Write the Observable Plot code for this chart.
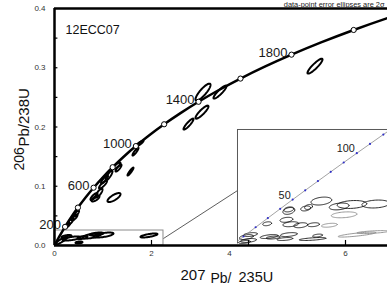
<!DOCTYPE html>
<html><head><meta charset="utf-8">
<script src="https://cdn.jsdelivr.net/npm/d3@7"></script>
<script src="https://cdn.jsdelivr.net/npm/@observablehq/plot@0.6"></script>
<style>
html,body{margin:0;padding:0;background:#fff;overflow:hidden;}
#wrap{position:relative;width:387px;height:294px;overflow:hidden;background:#fff;}
#main{position:absolute;left:0;top:0;}
#inset{position:absolute;left:237px;top:129px;}
</style></head>
<body><div id="wrap"><div id="main"></div><div id="inset"></div></div>
<script>
// ---------------- data ----------------
const sampleName = "12ECC07";
const noteText = "data-point error ellipses are 2σ";

// concordia (age in Ma, 207Pb/235U, 206Pb/238U)
const concordiaAge = [0,100,200,300,400,500,600,700,800,900,1000,1100,1200,1300,1400,1500,1600,1700,1800,1900,2000,2100,2200];
const concordia207 = [0,0.10350,0.21771,0.34374,0.48281,0.63628,0.80563,0.99251,1.19873,1.42630,1.67741,1.95452,2.26030,2.59774,2.97009,3.38099,3.83441,4.33477,4.88690,5.49618,6.16853,6.91045,7.72917];
const concordia206 = [0,0.015633,0.031511,0.047638,0.064016,0.080650,0.097544,0.114702,0.132128,0.149828,0.167804,0.186061,0.204603,0.223435,0.242562,0.261987,0.281716,0.301754,0.322105,0.342774,0.363766,0.385087,0.406741];
const markerAges = [200,400,600,800,1000,1200,1400,1600,1800,2000];
const labelAges = [200,600,1000,1400,1800];

// main-plot error ellipses: [207/235, 206/238, 2s x, 2s y, rho]
const mainEllipses = [
  [3.062,0.2589,0.155,0.0143,0.85],
  [3.412,0.2589,0.134,0.0110,0.90],
  [3.041,0.2251,0.134,0.0110,0.88],
  [2.763,0.2049,0.103,0.0093,0.90],
  [5.371,0.3027,0.155,0.0126,0.90],
  [1.753,0.1720,0.082,0.0050,0.90],
  [1.670,0.1585,0.062,0.0067,0.90],
  [1.320,0.1307,0.062,0.0059,0.85],
  [1.567,0.1248,0.062,0.0067,0.93],
  [1.227,0.0809,0.134,0.0076,0.75],
  [0.814,0.0826,0.072,0.0059,0.80],
  [0.918,0.0885,0.072,0.0076,0.80],
  [1.000,0.1029,0.082,0.0067,0.85],
  [1.031,0.1113,0.072,0.0067,0.85],
  [1.124,0.1180,0.072,0.0084,0.85],
  [1.289,0.1349,0.072,0.0051,0.80],
  [0.845,0.0793,0.082,0.0050,0.70],
  [0.330,0.0405,0.062,0.0059,0.80],
  [0.412,0.0472,0.062,0.0051,0.80],
  [0.268,0.0337,0.052,0.0042,0.80],
  [0.454,0.0540,0.052,0.0051,0.80],
  [0.144,0.0084,0.124,0.0067,0.90],
  [0.350,0.0118,0.186,0.0034,0.60],
  [0.577,0.0135,0.103,0.0025,0.50],
  [0.763,0.0160,0.186,0.0042,0.60],
  [1.010,0.0177,0.206,0.0042,0.60],
  [0.505,0.0051,0.072,0.0017,0.30],
  [1.948,0.0169,0.175,0.0034,0.70],
  [0.247,0.0152,0.103,0.0025,0.50],
  [0.866,0.0194,0.144,0.0025,0.50]
];

// zoom box and connector (main plot data units)
const zoomBox = [0, 2.247, 0, 0.0253];
const connectorFrom = [2.247, 0.0118];
const connectorTo = [3.773, 0.0927];

// inset concordia
const insetAge = [0,10,20,30,40,50,60,70,80,90,100,110,120,130,140];
const inset207 = [0,0.0098972,0.019892,0.029986,0.040180,0.050475,0.060872,0.071371,0.081975,0.092683,0.103505,0.114420,0.125449,0.136588,0.147837];
const inset206 = [0,0.0015525,0.0031073,0.0046646,0.0062243,0.0077864,0.0093509,0.0109179,0.0124873,0.0140592,0.0156334,0.0172102,0.0187893,0.0203710,0.0219550];
const insetLabelAges = [50,100];
const insetXDomain = [0.00489, 0.12887];
const insetYDomain = [0.000284, 0.019643];

// inset ellipses: [207/235, 206/238, 2s x, 2s y, rho, group]
const insetEllipses = [
  [0.0742,0.00754,0.00856,0.00067,0.3,"a"],
  [0.0636,0.00654,0.00326,0.00042,0.3,"a"],
  [0.0473,0.00587,0.00489,0.00058,0.3,"a"],
  [0.0473,0.00613,0.00408,0.00042,0.3,"a"],
  [0.0889,0.00663,0.00816,0.00058,0.3,"a"],
  [0.0995,0.00696,0.01223,0.00067,0.2,"a"],
  [0.0930,0.00521,0.01060,0.00050,0.3,"b"],
  [0.1191,0.00704,0.01140,0.00067,0.2,"a"],
  [0.0294,0.00370,0.00367,0.00033,0.3,"a"],
  [0.0453,0.00437,0.00530,0.00042,0.3,"a"],
  [0.0489,0.00362,0.00653,0.00042,0.3,"a"],
  [0.0571,0.00345,0.00571,0.00042,0.3,"a"],
  [0.0677,0.00354,0.00490,0.00033,0.3,"a"],
  [0.0808,0.00345,0.00653,0.00033,0.4,"b"],
  [0.0612,0.00629,0.00408,0.00042,0.3,"a"],
  [0.0122,0.00145,0.00571,0.00042,0.4,"a"],
  [0.0139,0.00087,0.00653,0.00033,0.4,"a"],
  [0.0155,0.00187,0.00571,0.00033,0.4,"a"],
  [0.0106,0.00062,0.00490,0.00025,0.4,"a"],
  [0.0310,0.00154,0.00734,0.00033,0.5,"a"],
  [0.0473,0.00187,0.00693,0.00033,0.4,"a"],
  [0.0440,0.00112,0.00653,0.00025,0.4,"a"],
  [0.0669,0.00112,0.01100,0.00025,0.6,"a"],
  [0.0710,0.00170,0.00408,0.00025,0.4,"a"],
  [0.1036,0.00187,0.01550,0.00042,0.8,"b"],
  [0.1166,0.00229,0.01310,0.00025,0.6,"b"],
  [0.0343,0.00137,0.00571,0.00025,0.4,"a"]
];

// axes
const xTickValues = [2,4,6];
const xLabelValues = [0,2,4,6];
const yTickValues = [0.05,0.1,0.15,0.2,0.25,0.3,0.35];
const yLabelValues = [0,0.1,0.2,0.3,0.4];

// ---------------- build ----------------
const FONT = '"Liberation Sans", Arial, Helvetica, sans-serif';

function outline(list) {
  const pts = [];
  list.forEach((e, id) => {
    const [cx, cy, sx, sy, rho, g] = e;
    const k = Math.sqrt(1 - rho * rho);
    for (let i = 0; i < 60; i++) {
      const t = 2 * Math.PI * i / 60;
      pts.push({id, g, x: cx + sx * Math.cos(t), y: cy + sy * (rho * Math.cos(t) + k * Math.sin(t))});
    }
  });
  return pts;
}

const conc = concordiaAge.map((a, i) => ({age: a, x: concordia207[i], y: concordia206[i]}));
const markers = conc.filter(d => markerAges.includes(d.age));
const labels = conc.filter(d => labelAges.includes(d.age));

const mainPlot = Plot.plot({
  width: 387, height: 294,
  marginTop: 8, marginRight: 0, marginBottom: 49, marginLeft: 54,
  x: {domain: [0, 333 / 48.5], axis: null},
  y: {domain: [0, 0.4], axis: null},
  style: {fontFamily: FONT, background: "transparent", overflow: "visible"},
  marks: [
    Plot.rect([zoomBox], {x1: d => d[0], x2: d => d[1], y1: d => d[2], y2: d => d[3], fill: "none", stroke: "#8c8c8c", strokeWidth: 1}),
    Plot.link([[connectorFrom, connectorTo]], {x1: d => d[0][0], y1: d => d[0][1], x2: d => d[1][0], y2: d => d[1][1], stroke: "#333", strokeWidth: 0.8}),
    Plot.line(outline(mainEllipses), {x: "x", y: "y", z: "id", curve: "linear-closed", stroke: "#000", strokeWidth: 2}),
    Plot.line(conc, {x: "x", y: "y", curve: "catmull-rom", stroke: "#000", strokeWidth: 2.5, clip: true}),
    Plot.dot(markers, {x: "x", y: "y", r: 2.6, fill: "#fff", stroke: "#000", strokeWidth: 1}),
    Plot.text(labels, {x: "x", y: "y", text: d => String(d.age), textAnchor: "end", lineAnchor: "bottom", dx: -4, dy: 2, fontSize: 13, fill: "#1a1a1a"}),
    // axes lines
    Plot.ruleX([0], {stroke: "#000", strokeWidth: 2.5}),
    Plot.ruleY([0, 0.4], {stroke: "#000", strokeWidth: 2.5}),
    // inward ticks
    Plot.ruleX(xTickValues, {x: d => d, y1: 0, y2: 0.0085, stroke: "#000", strokeWidth: 1.2}),
    Plot.ruleY(yTickValues, {y: d => d, x1: 0, x2: 0.07, stroke: "#000", strokeWidth: 1.2}),
    // tick labels
    Plot.text(yLabelValues, {y: d => d, frameAnchor: "left", dx: -9, textAnchor: "end", text: d => d3.format(".1f")(d), fontSize: 8, fill: "#333"}),
    Plot.text(xLabelValues.filter(d => d !== 4), {x: d => d, frameAnchor: "bottom", dy: 10, text: d => String(d), fontSize: 8, fill: "#333"}),
    Plot.text(xLabelValues.filter(d => d === 4), {x: d => d, frameAnchor: "bottom", dy: 10, dx: -19, text: d => String(d), fontSize: 8, fill: "#333"}),
    // titles
    Plot.text(["207"], {text: d => d, frameAnchor: "bottom-left", dx: 126, dy: 34, textAnchor: "start", lineAnchor: "bottom", fontSize: 15, fill: "#111"}),
    Plot.text(["Pb/"], {text: d => d, frameAnchor: "bottom-left", dx: 156, dy: 37, textAnchor: "start", lineAnchor: "bottom", fontSize: 14, fill: "#111"}),
    Plot.text(["235U"], {text: d => d, frameAnchor: "bottom-left", dx: 184, dy: 36, textAnchor: "start", lineAnchor: "bottom", fontSize: 14.5, fill: "#111"}),
    Plot.text(["206"], {text: d => d, frameAnchor: "bottom-left", dx: -31, dy: -75, rotate: -90, textAnchor: "start", lineAnchor: "bottom", fontSize: 14, fill: "#111"}),
    Plot.text(["Pb/238U"], {text: d => d, frameAnchor: "bottom-left", dx: -26, dy: -99, rotate: -90, textAnchor: "start", lineAnchor: "bottom", fontSize: 15, fill: "#111"}),
    Plot.text([sampleName], {text: d => d, frameAnchor: "top-left", dx: 11, dy: 25, textAnchor: "start", lineAnchor: "bottom", fontSize: 12.5, fill: "#111"}),
    Plot.text([noteText], {text: d => d, frameAnchor: "top-right", dx: -3, dy: -1.5, textAnchor: "end", lineAnchor: "bottom", fontSize: 7.4, fill: "#222"})
  ]
});
document.getElementById("main").appendChild(mainPlot);

const iconc = insetAge.map((a, i) => ({age: a, x: inset207[i], y: inset206[i]}));
const ilabels = iconc.filter(d => insetLabelAges.includes(d.age));

const insetPlot = Plot.plot({
  width: 152, height: 116, margin: 0,
  x: {domain: insetXDomain, axis: null},
  y: {domain: insetYDomain, axis: null},
  color: {domain: ["a", "b"], range: ["#111", "#8c8c8c"]},
  style: {fontFamily: FONT, background: "transparent", overflow: "visible"},
  marks: [
    Plot.ruleY([insetYDomain[1]], {stroke: "#555", strokeWidth: 1}),
    Plot.ruleX([insetXDomain[0]], {stroke: "#555", strokeWidth: 1}),
    Plot.line(outline(insetEllipses), {x: "x", y: "y", z: "id", curve: "linear-closed", stroke: "g", strokeWidth: 0.9}),
    Plot.line(iconc, {x: "x", y: "y", stroke: "#8a8a8a", strokeWidth: 0.8, clip: true}),
    Plot.dot(iconc.filter(d => d.age > 0), {x: "x", y: "y", r: 1.1, fill: "#3030c8", clip: true}),
    Plot.text(ilabels, {x: "x", y: "y", text: d => String(d.age), textAnchor: "end", lineAnchor: "bottom", dx: -2, dy: -1, fontSize: 11, fill: "#222"})
  ]
});
document.getElementById("inset").appendChild(insetPlot);
</script>
</body></html>
